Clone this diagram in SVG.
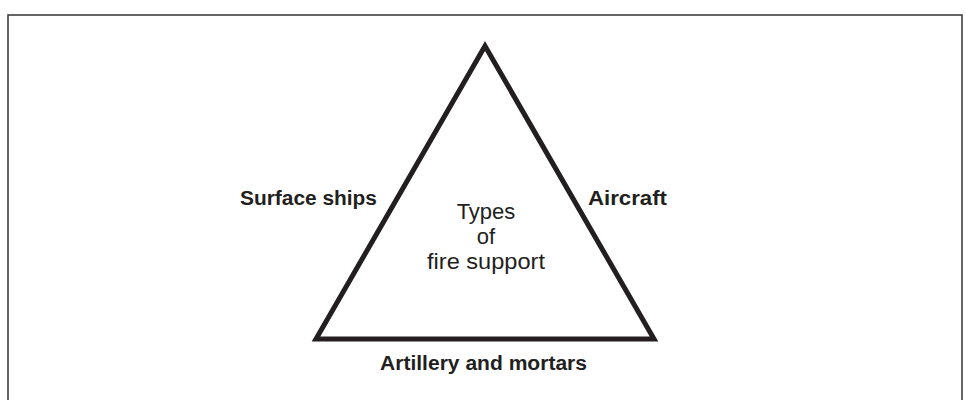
<svg xmlns="http://www.w3.org/2000/svg" width="966" height="400" viewBox="0 0 966 400">
<style>
.frame{fill:none;stroke:#333;stroke-width:1.5}
.tri{fill:none;stroke:#231f20;stroke-width:5;stroke-linejoin:miter;stroke-miterlimit:10}
.lbl{font-family:"Liberation Sans",Arial,sans-serif;font-weight:bold;font-size:19.5px;fill:#231f20}
.ctr{font-family:"Liberation Sans",Arial,sans-serif;font-size:22px;fill:#231f20;text-anchor:middle}
</style>
<rect class="frame" x="8" y="15" width="954" height="400"/>
<g id="connectors"></g>
<g id="triangle">
<polygon class="tri" points="485,46 316,339 654,339"/>
</g>
<g id="center">
<text class="ctr" x="486" y="219">Types</text>
<text class="ctr" x="486" y="244">of</text>
<text class="ctr" x="486" y="269" textLength="118" lengthAdjust="spacingAndGlyphs">fire support</text>
</g>
<g id="surface-ships">
<text class="lbl" x="240" y="205" textLength="137" lengthAdjust="spacingAndGlyphs">Surface ships</text>
</g>
<g id="aircraft">
<text class="lbl" x="588" y="205" textLength="79" lengthAdjust="spacingAndGlyphs">Aircraft</text>
</g>
<g id="artillery">
<text class="lbl" x="380" y="370" textLength="207" lengthAdjust="spacingAndGlyphs">Artillery and mortars</text>
</g>
</svg>
